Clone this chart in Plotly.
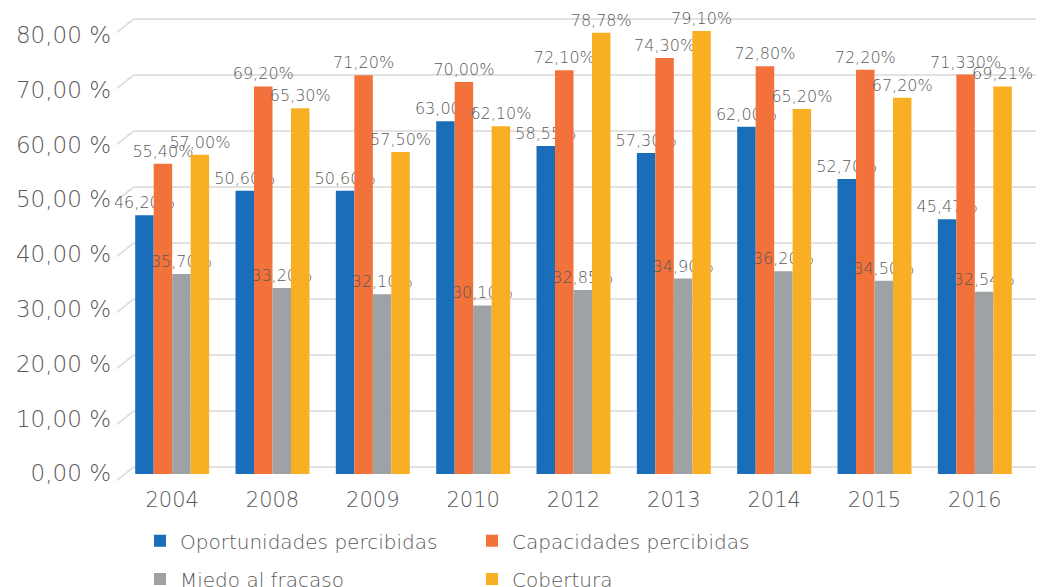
import plotly.graph_objects as go

years = ["2004", "2008", "2009", "2010", "2012", "2013", "2014", "2015", "2016"]
series_names = ["Oportunidades percibidas", "Capacidades percibidas", "Miedo al fracaso", "Cobertura"]
oportunidades = [46.20, 50.60, 50.60, 63.00, 58.55, 57.30, 62.00, 52.70, 45.47]
capacidades = [55.40, 69.20, 71.20, 70.00, 72.10, 74.30, 72.80, 72.20, 71.33]
miedo = [35.70, 33.20, 32.10, 30.10, 32.85, 34.90, 36.20, 34.50, 32.54]
cobertura = [57.00, 65.30, 57.50, 62.10, 78.78, 79.10, 65.20, 67.20, 69.21]
lbl_oport = ["46,20%", "50,60%", "50,60%", "63,00%", "58,55%", "57,30%", "62,00%", "52,70%", "45,47%"]
lbl_capac = ["55,40%", "69,20%", "71,20%", "70,00%", "72,10%", "74,30%", "72,80%", "72,20%", "71,330%"]
lbl_miedo = ["35,70%", "33,20%", "32,10%", "30,10%", "32,85%", "34,90%", "36,20%", "34,50%", "32,54%"]
lbl_cober = ["57,00%", "65,30%", "57,50%", "62,10%", "78,78%", "79,10%", "65,20%", "67,20%", "69,21%"]
y_ticks = [0, 10, 20, 30, 40, 50, 60, 70, 80]
y_tick_text = ["0,00 %", "10,00 %", "20,00 %", "30,00 %", "40,00 %", "50,00 %", "60,00 %", "70,00 %", "80,00 %"]

colors = ["#1A6DB8", "#F3723B", "#9EA2A4", "#F9AF24"]
FONT = "DejaVu Sans"
TXT = "#595959"
GRID = "#D9D9D9"

OFF = 8  # page body margin (figure is drawn 8px in from the window corner)
W, H = 1045 - OFF, 587 - OFF
ML, MR, MT, MB = 122 - OFF, 20, 26 - OFF, 113
PW, PH = W - ML - MR, H - MT - MB
YMAX = 80
# tick labels of the 3-D chart sit on a slightly compressed front scale
LABEL_SCALE, LABEL_BASE = 0.9786, 0.13

fig = go.Figure()
legend_ids = ["legend", "legend", "legend2", "legend2"]
for name, vals, lbls, col, lg in zip(series_names, [oportunidades, capacidades, miedo, cobertura],
                                     [lbl_oport, lbl_capac, lbl_miedo, lbl_cober], colors, legend_ids):
    fig.add_trace(go.Bar(
        name=name, x=years, y=vals, marker_color=col, marker_line_width=0,
        text=lbls, textposition="outside", cliponaxis=False, constraintext="none",
        textangle=0, legend=lg,
        textfont=dict(family=FONT, size=16, color=TXT, weight=300),
    ))

# pseudo-3D gridlines (back wall lines plus a slanted floor edge at the left)
def px_x(px):
    return (px - OFF - ML) / PW

def val_y(v, shift_px):
    return (v * PH / YMAX + shift_px) / PH

for v in y_ticks:
    fig.add_shape(type="line", xref="paper", yref="paper", layer="below",
                  x0=px_x(117), y0=val_y(v, -6.4), x1=px_x(133.5), y1=val_y(v, 6.9),
                  line=dict(color=GRID, width=1.5))
    fig.add_shape(type="line", xref="paper", yref="paper", layer="below",
                  x0=px_x(133.5), y0=val_y(v, 6.9), x1=px_x(1036), y1=val_y(v, 6.9),
                  line=dict(color=GRID, width=1.5))

legend_common = dict(
    orientation="h", xanchor="left", yanchor="middle",
    font=dict(family=FONT, size=20, color=TXT, weight=300),
    entrywidth=287, entrywidthmode="pixels", traceorder="normal",
    bgcolor="rgba(0,0,0,0)",
)
plot_bottom = H - MB
fig.update_layout(
    width=W, height=H,
    barmode="group", bargap=0.263, bargroupgap=0,
    plot_bgcolor="white", paper_bgcolor="white",
    margin=dict(l=ML, r=MR, t=MT, b=MB, autoexpand=False),
    font=dict(family=FONT, color=TXT),
    legend=dict(x=px_x(140), y=-(540.7 - OFF - plot_bottom) / PH, **legend_common),
    legend2=dict(x=px_x(140), y=-(579 - OFF - plot_bottom) / PH, **legend_common),
    yaxis=dict(
        range=[0, YMAX], showgrid=False, zeroline=False, showline=False,
        tickvals=[(v + LABEL_BASE) * LABEL_SCALE for v in y_ticks], ticktext=y_tick_text,
        tickfont=dict(family=FONT, size=23, color=TXT, weight=300),
        ticklabelstandoff=10,
    ),
    xaxis=dict(
        tickfont=dict(family=FONT, size=21, color=TXT, weight=300),
        showline=False, showgrid=False, ticklabelstandoff=11,
    ),
)

fig.write_html("out.html")
